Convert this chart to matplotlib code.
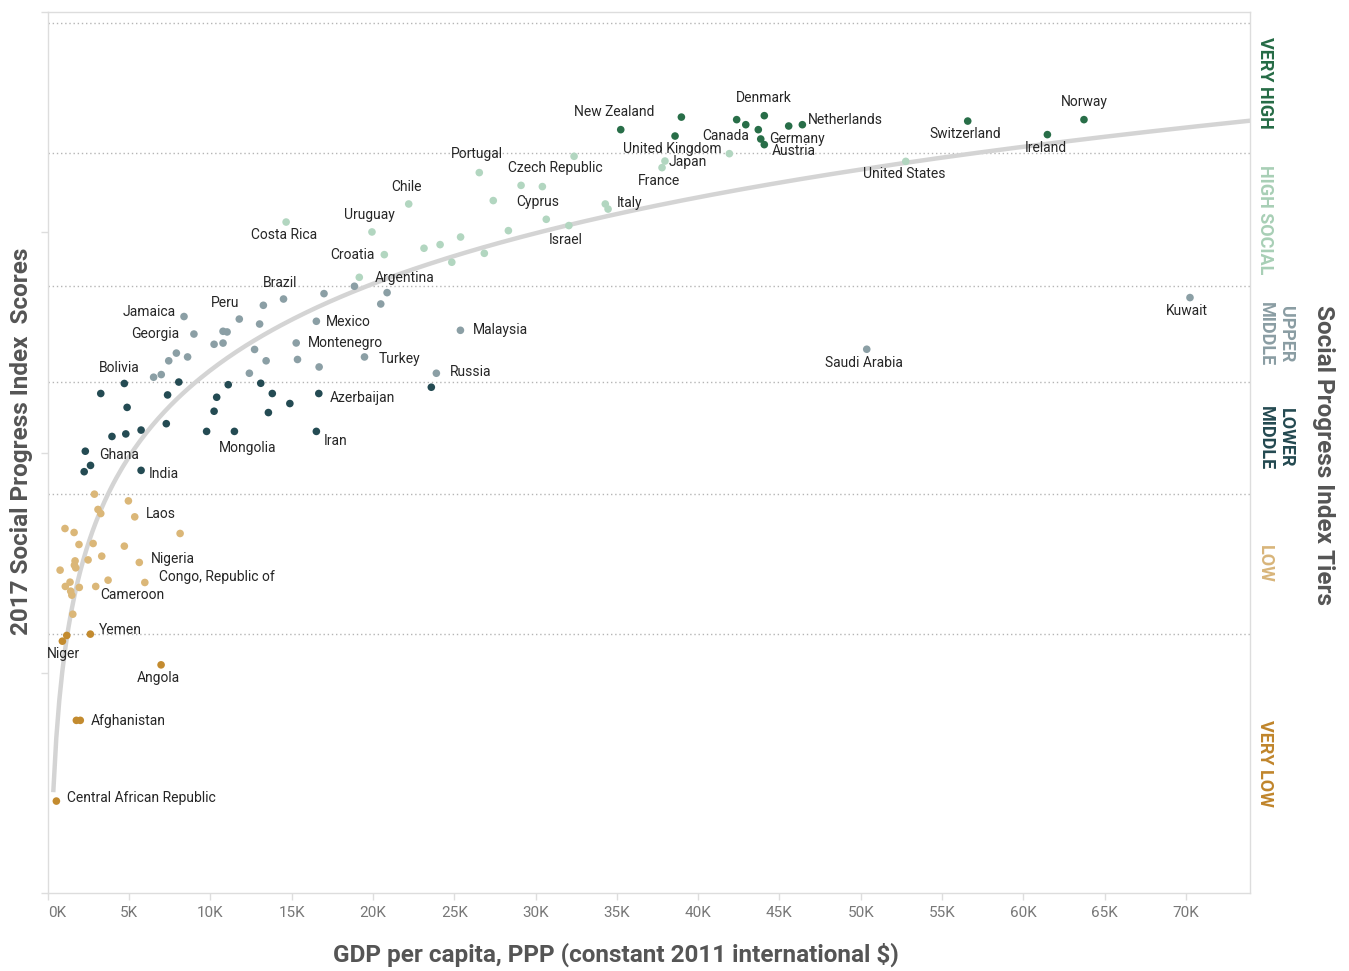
import numpy as np
import matplotlib
matplotlib.use("Agg")
import matplotlib.pyplot as plt
import matplotlib.transforms as mtransforms

# GDP per capita (thousands, PPP 2011 $) and 2017 SPI score, by tier
vh_names = ["New Zealand", "", "United Kingdom", "Denmark", "", "Canada", "", "Germany",
            "Austria", "", "Netherlands", "Switzerland", "Ireland", "Norway"]
vh_gdp = [35.24, 38.97, 38.58, 44.07, 42.37, 42.93, 43.70, 43.85, 44.07, 45.57, 46.41, 56.58, 61.48, 63.73]
vh_spi = [89.32, 90.46, 88.74, 90.59, 90.23, 89.77, 89.32, 88.47, 87.96, 89.65, 89.77, 90.10, 88.87, 90.23]

hi_names = ["", "Portugal", "", "Czech Republic", "", "Cyprus", "", "", "", "", "Israel", "Italy", "",
            "Japan", "France", "", "United States", "Chile", "Uruguay", "Croatia", "Argentina", "", "",
            "Costa Rica"]
hi_gdp = [32.37, 26.54, 29.11, 30.42, 27.40, 30.66, 28.33, 25.39, 26.85, 24.85, 32.05, 34.29, 34.46,
          37.96, 37.78, 41.92, 52.77, 22.20, 19.94, 20.70, 19.16, 23.14, 24.13, 14.66]
hi_spi = [86.90, 85.42, 84.26, 84.15, 82.88, 81.18, 80.15, 79.57, 78.09, 77.28, 80.61, 82.57, 82.11,
          86.47, 85.87, 87.14, 86.44, 82.57, 80.03, 77.97, 75.91, 78.55, 78.88, 80.93]

um_names = ["", "", "", "", "Brazil", "", "Peru", "", "Jamaica", "Georgia", "", "", "", "", "", "",
            "", "", "", "", "", "", "Mexico", "Montenegro", "", "", "Turkey", "Russia", "Malaysia",
            "Saudi Arabia", "Kuwait"]
um_gdp = [18.86, 20.87, 20.48, 16.99, 14.50, 13.26, 11.78, 13.03, 8.38, 8.99, 10.78, 11.03, 10.23,
          10.78, 7.91, 8.60, 7.44, 6.51, 6.98, 12.72, 13.43, 12.40, 16.52, 15.28, 15.36, 16.69, 19.48,
          23.90, 25.38, 50.37, 70.25]
um_spi = [75.10, 74.52, 73.49, 74.43, 73.94, 73.37, 72.12, 71.67, 72.35, 70.76, 71.01, 70.95, 69.83,
          69.94, 69.03, 68.68, 68.33, 66.84, 67.08, 69.36, 68.33, 67.20, 71.92, 69.95, 68.45, 67.77, 68.68,
          67.20, 71.10, 69.38, 74.07]

lm_names = ["", "Bolivia", "", "", "", "", "", "", "", "Ghana", "", "", "India", "", "", "", "",
            "Mongolia", "", "", "", "", "Azerbaijan", "Iran", ""]
lm_gdp = [3.26, 4.71, 4.88, 7.37, 8.06, 3.95, 4.80, 5.74, 7.29, 2.31, 2.63, 2.24, 5.74, 10.39, 11.10,
          10.23, 9.77, 11.48, 13.10, 13.81, 13.57, 14.89, 16.67, 16.52, 23.59]
lm_spi = [65.36, 66.27, 64.10, 65.23, 66.40, 61.46, 61.69, 62.04, 62.62, 60.12, 58.83, 58.26, 58.38,
          65.02, 66.16, 63.75, 61.92, 61.92, 66.29, 65.36, 63.63, 64.45, 65.36, 61.92, 65.93]

lo_names = ["", "", "", "", "Laos", "", "", "", "", "", "", "", "", "", "", "", "", "Nigeria", "",
            "Congo, Republic of", "", "", "", "Cameroon", "", "", ""]
lo_gdp = [2.87, 4.96, 3.09, 3.26, 5.35, 1.06, 1.62, 8.14, 1.92, 2.79, 4.71, 3.32, 2.48, 1.68, 1.64,
          1.72, 0.76, 5.63, 3.71, 5.97, 1.37, 1.08, 1.94, 2.95, 1.41, 1.48, 1.54]
lo_spi = [56.22, 55.61, 54.83, 54.46, 54.16, 53.10, 52.74, 52.65, 51.65, 51.74, 51.50, 50.59, 50.25,
          50.16, 49.77, 49.53, 49.32, 50.02, 48.41, 48.20, 48.23, 47.84, 47.75, 47.84, 47.41, 47.05, 45.32]

vl_names = ["Yemen", "", "Niger", "Angola", "", "Afghanistan", "Central African Republic"]
vl_gdp = [2.62, 1.17, 0.90, 6.97, 1.76, 2.00, 0.53]
vl_spi = [43.51, 43.39, 42.87, 40.72, 35.68, 35.68, 28.35]

tier_bounds = [98.97, 87.17, 75.12, 66.41, 56.24, 43.51]
tier_labels = ["VERY HIGH", "HIGH SOCIAL", "UPPER\nMIDDLE", "LOWER\nMIDDLE", "LOW", "VERY LOW"]
tier_colors = ["#286e48", "#b2d6c0", "#8b9fa5", "#244b53", "#dbb778", "#c38b2f"]
label_colors = ["#256b45", "#a8cfb6", "#8a9da3", "#234950", "#d8b57a", "#c0852b"]

x_ticks = [0, 5, 10, 15, 20, 25, 30, 35, 40, 45, 50, 55, 60, 65, 70]

# label offsets in pixels: (dx, dy, ha)
offsets = {
    "New Zealand": (-7, 18, "center"), "United Kingdom": (-3, -13, "center"),
    "Denmark": (0, 18, "center"), "Canada": (3, -11, "right"),
    "Netherlands": (6, 5, "left"), "Germany": (8, 0, "left"), "Austria": (7, -6, "left"),
    "Japan": (4, -1, "left"), "France": (-3, -13, "center"), "United States": (-2, -13, "center"),
    "Switzerland": (-2, -13, "center"), "Ireland": (-2, -13, "center"), "Norway": (0, 18, "center"),
    "Portugal": (-2, 19, "center"), "Czech Republic": (13, 19, "center"), "Cyprus": (-9, 17, "center"),
    "Italy": (11, 1, "left"), "Israel": (-3, -14, "center"), "Chile": (-2, 17, "center"),
    "Uruguay": (-3, 17, "center"), "Croatia": (-10, 0, "right"), "Argentina": (15, -1, "left"),
    "Costa Rica": (-2, -13, "center"), "Brazil": (-3, 16, "center"), "Peru": (-14, 16, "center"),
    "Jamaica": (-8, 5, "right"), "Georgia": (-15, 0, "right"), "Bolivia": (-5, 15, "center"),
    "Mexico": (10, -1, "left"), "Montenegro": (12, 0, "left"), "Turkey": (14, -2, "left"),
    "Russia": (14, 1, "left"), "Malaysia": (12, 0, "left"), "Azerbaijan": (11, -4, "left"),
    "Iran": (7, -10, "left"), "Mongolia": (13, -17, "center"), "Ghana": (14, -4, "left"),
    "India": (8, -4, "left"), "Saudi Arabia": (-3, -14, "center"), "Kuwait": (-3, -13, "center"),
    "Laos": (11, 3, "left"), "Nigeria": (12, 3, "left"), "Congo, Republic of": (14, 5, "left"),
    "Cameroon": (5, -9, "left"), "Yemen": (9, 4, "left"), "Niger": (1, -13, "center"),
    "Angola": (-3, -13, "center"), "Afghanistan": (10, -1, "left"),
    "Central African Republic": (11, 3, "left"),
}

plt.rcParams["font.family"] = ["Roboto", "DejaVu Sans"]

fig = plt.figure(figsize=(13.49, 9.71), dpi=100)
ax = fig.add_axes([0.0354, 0.0803, 0.8912, 0.9073])

# tier lines
for b in tier_bounds:
    ax.axhline(b, color="#b5b5b5", lw=1, linestyle=(0, (1, 2)), zorder=1)

# log trend line fitted to all points
all_gdp = np.array(vh_gdp + hi_gdp + um_gdp + lm_gdp + lo_gdp + vl_gdp)
all_spi = np.array(vh_spi + hi_spi + um_spi + lm_spi + lo_spi + vl_spi)
coef = np.polyfit(np.log(all_gdp), all_spi, 1)
xs = np.linspace(0.34, 74, 400)
ax.plot(xs, coef[0] * np.log(xs) + coef[1], color="#d4d4d4", lw=3.2, zorder=2, solid_capstyle="butt")

groups = [
    (vh_names, vh_gdp, vh_spi), (hi_names, hi_gdp, hi_spi), (um_names, um_gdp, um_spi),
    (lm_names, lm_gdp, lm_spi), (lo_names, lo_gdp, lo_spi), (vl_names, vl_gdp, vl_spi),
]
for (names, gdp, spi), col in zip(groups, tier_colors):
    ax.scatter(gdp, spi, s=30, color=col, edgecolors="none", zorder=3)
    for n, x, y in zip(names, gdp, spi):
        if not n:
            continue
        dx, dy, ha = offsets[n]
        ax.annotate(n, (x, y), xytext=(dx, dy), textcoords="offset pixels",
                    ha=ha, va="center", fontsize=10, color="#262626", zorder=4)

ax.set_xlim(0, 73.94)
ax.set_ylim(20, 100)
ax.set_xticks(x_ticks)
ax.set_xticklabels([f"{t}K" for t in x_ticks])
ax.get_xticklabels()[0].set_horizontalalignment("left")
ax.set_yticks([20, 40, 60, 80, 100])
ax.set_yticklabels([])
ax.tick_params(axis="both", color="#dddddd", length=5, width=1)
ax.tick_params(axis="x", labelsize=11, labelcolor="#777777", pad=4)
for s in ax.spines.values():
    s.set_color("#dddddd")
    s.set_linewidth(1)

# tier labels on the right
trans = mtransforms.blended_transform_factory(fig.transFigure, ax.transData)
edges = [100] + tier_bounds[1:] + [20]
for i, (lab, col) in enumerate(zip(tier_labels, label_colors)):
    yc = (edges[i] + edges[i + 1]) / 2
    xf = 0.9458 if "\n" in lab else 0.9377
    ax.text(xf, yc, lab, transform=trans, rotation=-90, ha="center", va="center",
            fontsize=13, fontweight="bold", color=col, linespacing=1.1)

fig.text(616 / 1349, 1 - 955 / 971, "GDP per capita, PPP (constant 2011 international $)",
         ha="center", va="center", fontsize=17.5, fontweight="bold", color="#555555")
fig.text(22 / 1349, 1 - 441 / 971, "2017 Social Progress Index  Scores", rotation=90,
         ha="center", va="center", fontsize=17.5, fontweight="bold", color="#555555")
fig.text(1323 / 1349, 1 - 455 / 971, "Social Progress Index Tiers", rotation=-90,
         ha="center", va="center", fontsize=17.5, fontweight="bold", color="#555555")

fig.savefig("out.png", dpi=100)
